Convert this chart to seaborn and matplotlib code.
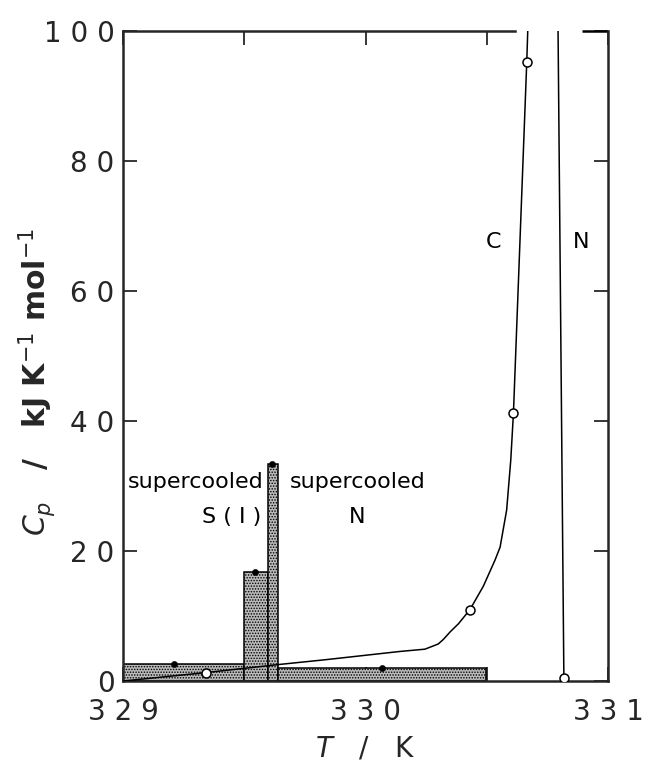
import numpy as np
import pandas as pd
import matplotlib
matplotlib.use("Agg")
import matplotlib.pyplot as plt
import seaborn as sns

# Heat-capacity steps measured across the transition region (bar edges in K, Cp in kJ K^-1 mol^-1)
bar_edges = [329.0, 329.497, 329.597, 329.640, 330.497]
bar_cp = [2.6, 16.8, 33.4, 2.0]
# Mean-temperature points of each step
step_T = [329.21, 329.545, 329.616, 330.067]
step_cp = [2.6, 16.8, 33.4, 2.0]

# Smooth curve for the C phase
curve_T = [329.0, 329.342, 329.645, 329.84, 330.142, 330.245, 330.30, 330.321,
           330.35, 330.383, 330.431, 330.486, 330.534, 330.555, 330.582, 330.599,
           330.610, 330.665, 330.669]
curve_cp = [0.0, 1.3, 2.55, 3.3, 4.55, 4.9, 5.7, 6.4,
            7.6, 8.8, 11.0, 14.6, 18.6, 20.6, 26.3, 34.0,
            41.2, 95.3, 100.0]
# Open-circle points on the C curve
c_T = [329.342, 330.431, 330.610, 330.665]
c_cp = [1.3, 11.0, 41.2, 95.3]
# Near-vertical N branch
n_T = [330.818, 330.794]
n_cp = [0.5, 100.0]

x_ticks = [329.0, 329.5, 330.0, 330.5, 331.0]
x_labels = ["3 2 9", "", "3 3 0", "", "3 3 1"]
y_ticks = [0, 20, 40, 60, 80, 100]
y_labels = ["0", "2 0", "4 0", "6 0", "8 0", "1 0 0"]

sns.set_theme(style="ticks")
plt.rcParams["font.family"] = ["DejaVu Sans"]
plt.rcParams["hatch.linewidth"] = 0.7
plt.rcParams["hatch.color"] = "#444444"

fig = plt.figure(figsize=(6.46, 7.64), dpi=100)
ax = fig.add_axes([0.1904, 0.1086, 0.9412 - 0.1904, 0.9594 - 0.1086])

bar_centers = [(a + b) / 2 for a, b in zip(bar_edges[:-1], bar_edges[1:])]
sns.histplot(x=bar_centers, weights=bar_cp, bins=bar_edges, stat="count",
             color="#bababa", alpha=1.0, edgecolor="black", linewidth=1.1, ax=ax)
for p in ax.patches:
    p.set_hatch("......")

sns.lineplot(x=curve_T, y=curve_cp, sort=False, color="black", linewidth=1.1,
             ax=ax, zorder=3)
sns.lineplot(x=n_T, y=n_cp, sort=False, color="black", linewidth=1.1, ax=ax, zorder=3)
sns.scatterplot(x=c_T + [n_T[0]], y=c_cp + [n_cp[0]], marker="o", s=42,
                facecolor="white", edgecolor="black", linewidth=1.1, ax=ax, zorder=4)
sns.scatterplot(x=step_T, y=step_cp, marker="o", s=20, color="black",
                edgecolor="black", ax=ax, zorder=4)

ax.set_xlim(329, 331)
ax.set_ylim(0, 100)
ax.set_xticks(x_ticks)
ax.set_xticklabels(x_labels)
ax.set_yticks(y_ticks)
ax.set_yticklabels(y_labels)
ax.tick_params(axis="both", direction="in", length=10, width=1.3,
               labelsize=20, top=True, right=True, pad=6)
ax.tick_params(axis="x", pad=12)
for side in ["left", "right", "bottom", "top"]:
    ax.spines[side].set_linewidth(1.8)
ax.spines["top"].set_bounds(329, 330.615)
ax.hlines(100, 330.893, 331, color="black", linewidth=1.8, clip_on=False)

ax.set_xlabel(r"$T$   /   K", fontsize=20, labelpad=6)
ax.set_ylabel(r"$C_p$   /   kJ K$^{-1}$ mol$^{-1}$", fontsize=21.5, fontweight="bold")
ax.yaxis.set_label_coords(-0.135, 0.46)

txt = dict(fontsize=16, color="black")
ax.text(329.30, 29.7, "supercooled", ha="center", va="baseline", **txt)
ax.text(329.448, 24.3, "S ( I )", ha="center", va="baseline", **txt)
ax.text(329.967, 29.7, "supercooled", ha="center", va="baseline", **txt)
ax.text(329.967, 24.3, "N", ha="center", va="baseline", **txt)
ax.text(330.527, 66.6, "C", ha="center", va="baseline", **txt)
ax.text(330.889, 66.6, "N", ha="center", va="baseline", **txt)

fig.savefig("out.png", dpi=100)
